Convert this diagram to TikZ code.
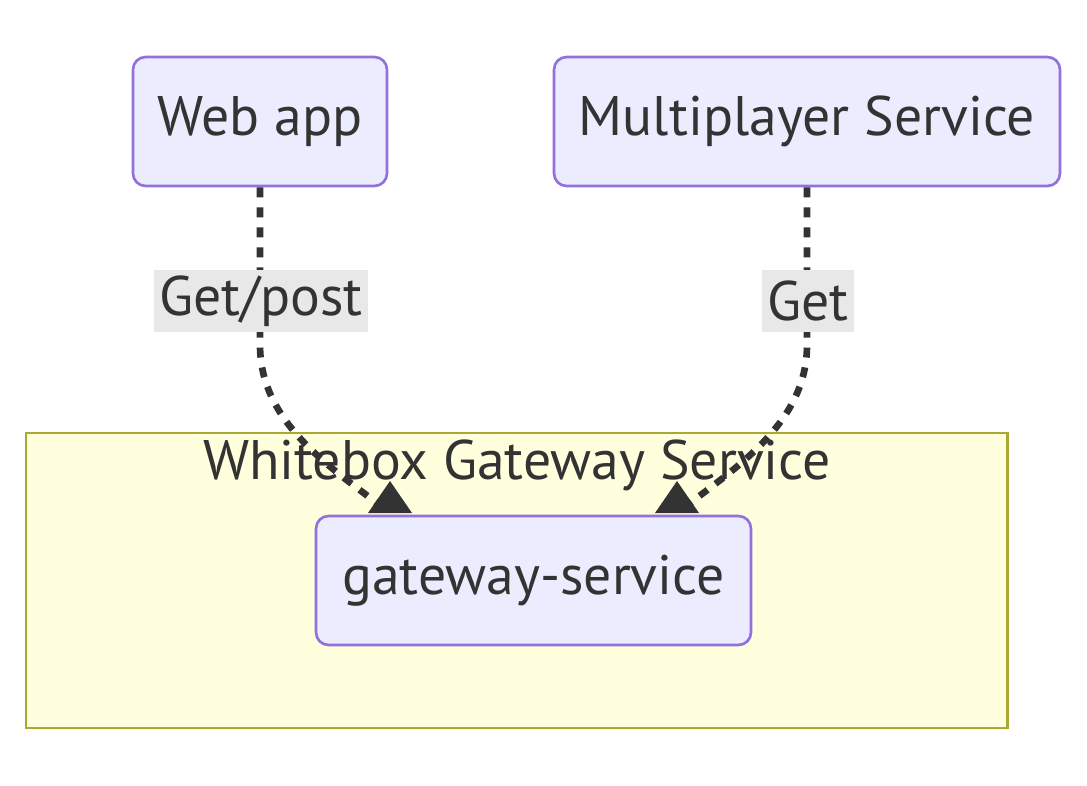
\documentclass[tikz,border=0pt]{standalone}
\usepackage{fontspec}
\usepackage{tikz}
\usepackage{xcolor}
\usetikzlibrary{arrows.meta,positioning}
\setmainfont{PT Sans}
\definecolor{ink}{HTML}{333333}
\definecolor{nodefill}{HTML}{ECECFF}
\definecolor{nodeline}{HTML}{9370DB}
\definecolor{groupfill}{HTML}{FFFFDE}
\definecolor{groupline}{HTML}{AAAA33}
\definecolor{labelbg}{HTML}{E8E8E8}

\begin{document}
\begin{tikzpicture}[
  x=0.02cm, y=-0.02cm,
  every node/.style={font=\fontsize{31.7pt}{38pt}\selectfont, text=ink},
  svc/.style={draw=nodeline, fill=nodefill, line width=1.5pt, rounded corners=0.25cm, minimum height=2.58cm, inner sep=0pt},
  group/.style={draw=groupline, fill=groupfill, line width=1.7pt},
  edge/.style={draw=ink, line width=3.8pt, dash pattern=on 5.7pt off 5.7pt},
  elabel/.style={fill=labelbg, inner xsep=0.1cm, minimum height=1.26cm},
  tip/.style={fill=ink}
]
\useasboundingbox (0,0) rectangle (1087,786);
% subgraph
\draw[group] (26,433) rectangle (1007,728);
\node (grouptitle) at (517,465) {Whitebox Gateway Service};
\node[svc, minimum width=8.7cm] (gateway) at (533.5,580.5) {gateway-service};
% callers
\node[svc, minimum width=5.08cm] (webapp) at (260,121.5) {Web app};
\node[svc, minimum width=10.12cm] (multi) at (807,121.5) {Multiplayer Service};
\coordinate (tipA) at (390,513);
\coordinate (tipB) at (677,513);
\draw[edge] (webapp.south) -- (260,345) .. controls (260,425) and (335,470) .. (tipA);
\draw[edge] (multi.south) -- (807,345) .. controls (807,425) and (732,470) .. (tipB);
\fill[tip] ([xshift=-0.44cm]tipA) -- ([xshift=0.44cm]tipA) -- ([yshift=0.64cm]tipA) -- cycle;
\fill[tip] ([xshift=-0.44cm]tipB) -- ([xshift=0.44cm]tipB) -- ([yshift=0.64cm]tipB) -- cycle;
\node[elabel] (getpost) at (261,301) {Get/post};
\node[elabel] (get) at (808,301) {Get};
\end{tikzpicture}
\end{document}
